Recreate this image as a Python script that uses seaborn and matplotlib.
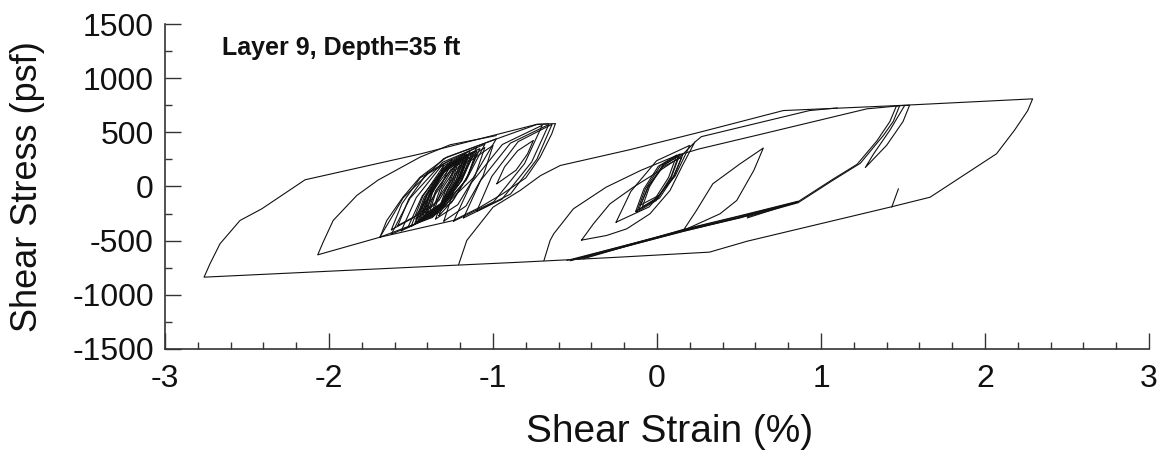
import numpy as np
import pandas as pd
import matplotlib
matplotlib.use("Agg")
import matplotlib.pyplot as plt
import seaborn as sns
from matplotlib.ticker import MultipleLocator

# ---- data: (shear strain %, shear stress psf) ----
outer = [(0.77, 701), (1.48, 748), (2.29, 809), (2.26, 700), (2.18, 520), (2.07, 302),
         (1.665, -99), (1.42, -191), (0.55, -505), (0.32, -606), (-0.226, -652),
         (-0.835, -699), (-1.262, -729), (-2.762, -837), (-2.726, -714), (-2.665, -529),
         (-2.543, -314), (-2.41, -206), (-2.146, 62), (-1.445, 300), (-0.73, 575), (-0.62, 580)]

left_unload = [(-0.62, 580), (-0.642, 486), (-0.713, 271), (-0.80, 80), (-0.939, -65),
               (-1.079, -191), (-1.242, -314), (-1.689, -468), (-2.069, -631),
               (-2.036, -514), (-1.975, -314), (-1.831, -83), (-1.70, 60), (-1.445, 271),
               (-1.262, 385), (-0.98, 470)]

cluster_edge = [(-1.689, -468), (-1.648, -314), (-1.549, -98), (-1.445, 86), (-1.282, 271),
                (-0.977, 440), (-0.734, 572), (-0.66, 578)]

loop01 = [(-1.69, -468), (-1.548, -105), (-1.30, 258), (-0.98, 440), (-1.122, 77), (-1.37, -286), (-1.69, -468)]
loop02 = [(-1.62, -440), (-1.506, -108), (-1.307, 224), (-1.05, 390), (-1.164, 58), (-1.364, -274), (-1.62, -440)]
loop03 = [(-1.56, -410), (-1.468, -102), (-1.307, 206), (-1.10, 360), (-1.192, 52), (-1.353, -256), (-1.56, -410)]
loop04 = [(-1.50, -370), (-1.428, -90), (-1.302, 190), (-1.14, 330), (-1.212, 50), (-1.338, -230), (-1.50, -370)]
loop05 = [(-1.46, -330), (-1.402, -78), (-1.30, 174), (-1.17, 300), (-1.228, 48), (-1.33, -204), (-1.46, -330)]
loop06 = [(-1.43, -290), (-1.382, -66), (-1.298, 158), (-1.19, 270), (-1.238, 46), (-1.322, -178), (-1.43, -290)]
loop07 = [(-1.41, -260), (-1.37, -60), (-1.30, 140), (-1.21, 240), (-1.25, 40), (-1.32, -160), (-1.41, -260)]
loop08 = [(-1.52, -380), (-1.432, -88), (-1.278, 204), (-1.08, 350), (-1.168, 58), (-1.322, -234), (-1.52, -380)]
loop09 = [(-1.47, -330), (-1.40, -70), (-1.278, 190), (-1.12, 320), (-1.19, 60), (-1.312, -200), (-1.47, -330)]
loop10 = [(-1.44, -300), (-1.382, -64), (-1.28, 172), (-1.15, 290), (-1.208, 54), (-1.31, -182), (-1.44, -300)]
loop11 = [(-1.38, -270), (-1.324, -30), (-1.226, 210), (-1.10, 330), (-1.156, 90), (-1.254, -150), (-1.38, -270)]
loop12 = [(-1.35, -300), (-1.29, -36), (-1.185, 228), (-1.05, 360), (-1.11, 96), (-1.215, -168), (-1.35, -300)]
loop13 = [(-1.58, -360), (-1.514, -116), (-1.40, 128), (-1.25, 250), (-1.316, 6), (-1.43, -238), (-1.58, -360)]
loop14 = [(-1.62, -400), (-1.556, -160), (-1.444, 80), (-1.30, 200), (-1.364, -40), (-1.476, -280), (-1.62, -400)]
loop15 = [(-1.30, -320), (-1.24, -40), (-1.135, 240), (-1.00, 380), (-1.06, 100), (-1.165, -180), (-1.30, -320)]
loop16 = [(-1.42, -280), (-1.37, -50), (-1.27, 160), (-1.16, 280), (-1.21, 60), (-1.31, -170), (-1.42, -280)]
loop17 = [(-1.48, -350), (-1.41, -90), (-1.29, 180), (-1.13, 310), (-1.20, 40), (-1.33, -220), (-1.48, -350)]
loop18 = [(-1.40, -240), (-1.35, -40), (-1.26, 150), (-1.18, 250), (-1.22, 70), (-1.30, -140), (-1.40, -240)]
loop19 = [(-1.45, -310), (-1.39, -75), (-1.285, 165), (-1.16, 300), (-1.215, 55), (-1.32, -190), (-1.45, -310)]
loop20 = [(-1.39, -250), (-1.345, -35), (-1.255, 155), (-1.15, 270), (-1.20, 75), (-1.29, -130), (-1.39, -250)]
loop21 = [(-1.43, -230), (-1.38, -40), (-1.30, 130), (-1.22, 220), (-1.26, 50), (-1.33, -130), (-1.43, -230)]
loop22 = [(-1.36, -220), (-1.31, -20), (-1.24, 140), (-1.17, 230), (-1.21, 80), (-1.28, -110), (-1.36, -220)]
loop23 = [(-1.47, -300), (-1.42, -100), (-1.33, 110), (-1.22, 250), (-1.27, 40), (-1.36, -170), (-1.47, -300)]
loop24 = [(-1.33, -270), (-1.28, -40), (-1.20, 170), (-1.10, 300), (-1.15, 110), (-1.24, -120), (-1.33, -270)]

upper_r1 = [(-1.24, -320), (-1.132, 34), (-0.943, 388), (-0.70, 565), (-0.808, 211), (-0.997, -143), (-1.24, -320)]
upper_r2 = [(-1.18, -290), (-1.076, 55), (-0.894, 400), (-0.66, 572), (-0.764, 227), (-0.946, -118), (-1.18, -290)]
upper_r3 = [(-1.10, -230), (-1.008, 92), (-0.847, 414), (-0.64, 575), (-0.732, 253), (-0.893, -69), (-1.10, -230)]

small_lens = [(-0.977, 25), (-0.93, 180), (-0.85, 330), (-0.754, 425), (-0.79, 300),
              (-0.86, 150), (-0.977, 25)]

curve_a = [(-1.21, -722), (-1.16, -498), (-1.0, -191), (-0.835, -37), (-0.71, 101),
           (-0.59, 194), (-0.165, 340), (0.26, 501), (0.77, 701)]

curve_b = [(-0.69, -686), (-0.652, -498), (-0.63, -437), (-0.51, -206), (-0.31, -6),
           (-0.10, 148), (0.12, 286), (0.26, 348), (0.6, 470), (1.28, 717), (1.48, 745)]

line_2 = [(0.23, 409), (0.27, 460), (0.93, 701), (1.1, 725)]

mid_lens = [(-0.46, -495), (-0.388, -345), (-0.287, -160), (-0.144, -6), (0.018, 148),
            (0.14, 271), (0.23, 409), (0.16, 209), (0.079, -37), (-0.043, -252),
            (-0.185, -391), (-0.307, -452), (-0.46, -495)]

core_m1 = [(-0.124, -237), (-0.071, -22), (0.021, 193), (0.14, 300), (0.087, 85), (-0.005, -130), (-0.124, -237)]
core_m2 = [(-0.11, -210), (-0.056, -4), (0.039, 202), (0.16, 305), (0.106, 99), (0.015, -107), (-0.11, -210)]
core_m3 = [(-0.09, -190), (-0.046, -2), (0.031, 186), (0.13, 280), (0.086, 92), (0.009, -96), (-0.09, -190)]
core_m4 = [(-0.10, -170), (-0.05, 6), (0.0375, 182), (0.15, 270), (0.10, 94), (0.0125, -82), (-0.10, -170)]
core_m5 = [(-0.13, -230), (-0.08, -22), (0.0075, 186), (0.12, 290), (0.07, 82), (-0.0175, -126), (-0.13, -230)]
core_m6 = [(-0.25, -330), (-0.16, -46), (-0.0025, 238), (0.20, 380), (0.11, 96), (-0.0475, -188), (-0.25, -330)]

right_lens = [(0.16, -406), (0.24, -222), (0.34, 25), (0.506, 209), (0.648, 355),
              (0.59, 148), (0.486, -129), (0.384, -252), (0.16, -406)]

thick_1 = [(-0.55, -683), (0.16, -406), (0.506, -283), (0.86, -145)]
thick_2 = [(-0.52, -678), (0.16, -400), (0.506, -275), (0.86, -140)]
thick_3 = [(-0.48, -672), (0.16, -412), (0.506, -290), (0.80, -165)]
thick_4 = [(-0.53, -686), (0.16, -415), (0.506, -286), (0.84, -152)]
thick_5 = [(-0.45, -668), (0.16, -397), (0.506, -270), (0.86, -136)]

far_1 = [(0.55, -280), (0.86, -150), (1.07, 55), (1.24, 215), (1.38, 471),
         (1.44, 600), (1.48, 748)]
far_2 = [(0.55, -290), (0.86, -140), (1.07, 65), (1.22, 205), (1.34, 420),
         (1.42, 600), (1.46, 745), (1.54, 750), (1.50, 600), (1.40, 380),
         (1.27, 175), (1.32, 300), (1.42, 520), (1.51, 748)]

spike = [(1.431, -191), (1.472, -21)]

branches = {
    "outer": outer, "left_unload": left_unload, "cluster_edge": cluster_edge,
    "loop01": loop01, "loop02": loop02, "loop03": loop03, "loop04": loop04,
    "loop05": loop05, "loop06": loop06, "loop07": loop07, "loop08": loop08,
    "loop09": loop09, "loop10": loop10, "loop11": loop11, "loop12": loop12,
    "loop13": loop13, "loop14": loop14, "loop15": loop15, "loop16": loop16,
    "loop17": loop17, "loop18": loop18, "loop19": loop19, "loop20": loop20,
    "loop21": loop21, "loop22": loop22, "loop23": loop23, "loop24": loop24,
    "upper_r1": upper_r1, "upper_r2": upper_r2, "upper_r3": upper_r3,
    "small_lens": small_lens, "curve_a": curve_a, "curve_b": curve_b, "line_2": line_2,
    "mid_lens": mid_lens, "core_m1": core_m1, "core_m2": core_m2, "core_m3": core_m3,
    "core_m4": core_m4, "core_m5": core_m5, "core_m6": core_m6,
    "right_lens": right_lens, "thick_1": thick_1, "thick_2": thick_2, "thick_3": thick_3,
    "thick_4": thick_4, "thick_5": thick_5,
    "far_1": far_1, "far_2": far_2, "spike": spike,
}

rows = []
for name, pts in branches.items():
    for i, (s, t) in enumerate(pts):
        rows.append({"branch": name, "order": i, "strain": s, "stress": t})
df = pd.DataFrame(rows)

sns.set_style("ticks")
plt.rcParams["font.family"] = ["Liberation Sans", "DejaVu Sans"]

fig = plt.figure(figsize=(11.59, 4.59), dpi=100)
ax = fig.add_axes([0.1424, 0.2397, 0.849, 0.708])

sns.lineplot(data=df, x="strain", y="stress", units="branch", estimator=None,
             sort=False, color="#111111", linewidth=0.8, ax=ax, legend=False)

ax.set_xlim(-3, 3)
ax.set_ylim(-1500, 1500)
ax.xaxis.set_minor_locator(MultipleLocator(0.2))
ax.yaxis.set_minor_locator(MultipleLocator(250))
ax.set_xticks(np.arange(-3, 4, 1))
ax.set_xticklabels(["-3", "-2", "-1", "0", "1", "2", "3"])
ax.set_yticks(np.arange(-1500, 1501, 500))
ax.set_yticklabels(["-1500", "-1000", "-500", "0", "500", "1000", "1500"])

ax.tick_params(which="major", direction="in", length=11.5, width=1.0, color="#333333",
               labelsize=23, labelcolor="#111111")
ax.tick_params(axis="x", which="major", pad=11)
ax.tick_params(axis="y", which="major", pad=8)
ax.tick_params(which="minor", direction="in", length=5, width=1.0, color="#333333")
for side in ["top", "right"]:
    ax.spines[side].set_visible(False)
for side in ["left", "bottom"]:
    ax.spines[side].set_color("#333333")
    ax.spines[side].set_linewidth(1.2)

ax.set_xlabel("Shear Strain (%)", fontsize=28, color="#111111", labelpad=12)
ax.xaxis.set_label_coords(0.513, -0.2)
ax.xaxis.label.set_va("top")
ax.set_ylabel("Shear Stress (psf)", fontsize=26, color="#111111", labelpad=20)

ax.text(-2.652, 1283, "Layer 9, Depth=35 ft", fontsize=18, fontweight="bold",
        ha="left", va="center", color="#111111")

fig.savefig("out.png", dpi=100)
